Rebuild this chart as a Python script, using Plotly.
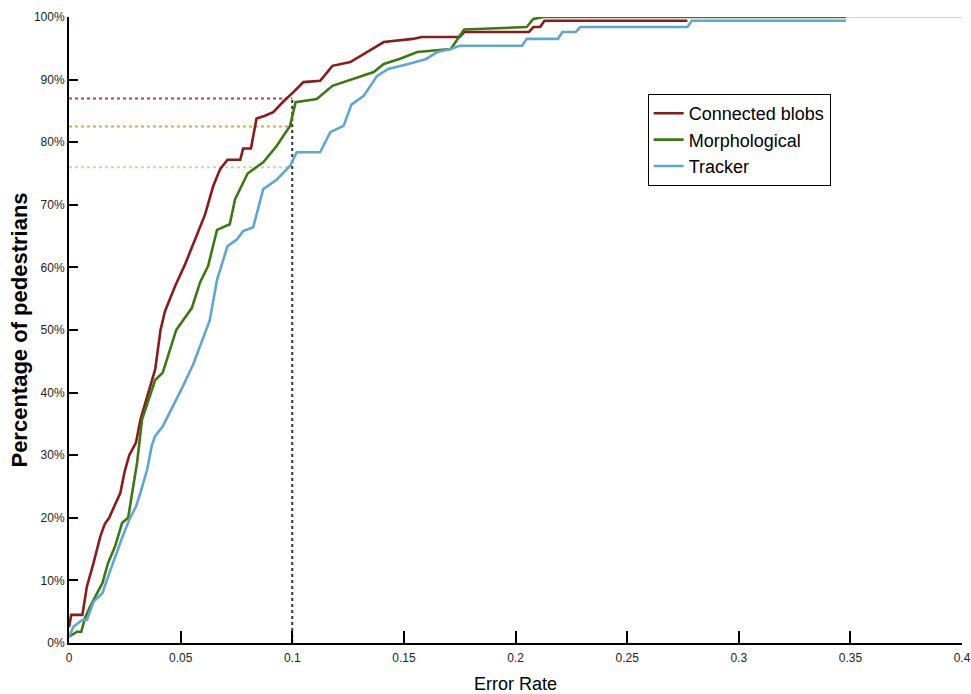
import plotly.graph_objects as go

# ---- data ----
blobs_x = [0, 0.001, 0.006, 0.008, 0.011, 0.014, 0.016, 0.018, 0.023, 0.025, 0.027, 0.030, 0.032,
           0.0386, 0.041, 0.043, 0.0475, 0.052, 0.0565, 0.061, 0.0646, 0.0677, 0.071, 0.0767, 0.078, 0.0815,
           0.084, 0.0875, 0.0915, 0.096, 0.1005, 0.105, 0.1125, 0.118, 0.126, 0.1336, 0.141, 0.154,
           0.158, 0.175, 0.177, 0.206, 0.208, 0.211, 0.213, 0.277]
blobs_y = [2.5, 4.5, 4.5, 9, 12.8, 17, 19, 20, 24, 27.5, 30, 32, 35.7,
           43.7, 50, 53, 57, 60.5, 64.5, 68.5, 73, 75.7, 77.2, 77.2, 79, 79,
           83.8, 84.2, 84.8, 86.5, 88, 89.6, 89.8, 92.2, 92.8, 94.4, 96, 96.5,
           96.8, 96.8, 97.6, 97.6, 98.4, 98.4, 99.4, 99.4]

morph_x = [0, 0.0036, 0.0055, 0.0072, 0.0094, 0.0125, 0.015, 0.0175, 0.0206, 0.0238, 0.0265, 0.0283,
           0.0305, 0.0327, 0.0386, 0.042, 0.048, 0.055, 0.0587, 0.0623, 0.0663, 0.072, 0.0744, 0.08,
           0.087, 0.093, 0.099, 0.1015, 0.111, 0.118, 0.126, 0.1365, 0.141, 0.148, 0.156, 0.171,
           0.177, 0.205, 0.208, 0.2125, 0.348]
morph_y = [1, 1.8, 1.8, 4, 5.8, 8, 9.6, 12.8, 15.4, 19.2, 20, 24,
           28.8, 35.7, 42, 43.2, 50, 53.5, 57.6, 60.2, 66, 66.9, 70.9, 75,
           76.8, 79.4, 82.6, 86.4, 86.9, 89, 90, 91.2, 92.5, 93.3, 94.4, 94.9,
           98, 98.4, 99.7, 100, 100]

track_x = [0, 0.002, 0.006, 0.008, 0.011, 0.015, 0.0175, 0.0206, 0.024, 0.027, 0.03, 0.032, 0.035,
           0.037, 0.0385, 0.042, 0.0466, 0.051, 0.0556, 0.06, 0.063, 0.0663, 0.071, 0.0753, 0.078,
           0.0825, 0.0857, 0.087, 0.093, 0.099, 0.102, 0.1125, 0.117, 0.123, 0.1265, 0.132, 0.138,
           0.143, 0.152, 0.16, 0.165, 0.171, 0.175, 0.203, 0.205, 0.219, 0.221, 0.227, 0.229, 0.277,
           0.279, 0.348]
track_y = [1, 2.6, 3.7, 3.7, 6.6, 8, 10.6, 13.8, 17, 19.7, 21.8, 24, 27.7,
           31.4, 33, 34.6, 37.8, 41, 44.5, 48.5, 51.5, 58, 63.4, 64.5, 65.8,
           66.4, 70.9, 72.5, 74, 76.2, 78.4, 78.4, 81.6, 82.6, 86, 87.4, 90.6,
           91.7, 92.5, 93.3, 94.4, 94.9, 95.4, 95.4, 96.5, 96.5, 97.6, 97.6, 98.4, 98.4,
           99.4, 99.4]

tail_x = [0.348, 0.4]
tail_y = [100, 100]

ref_rate = 0.1
ref_levels = [87, 82.5, 76]

x_ticks = [0, 0.05, 0.1, 0.15, 0.2, 0.25, 0.3, 0.35, 0.4]
x_labels = ["0", "0.05", "0.1", "0.15", "0.2", "0.25", "0.3", "0.35", "0.4"]
y_ticks = [0, 10, 20, 30, 40, 50, 60, 70, 80, 90, 100]
y_labels = [f"{v}%" for v in y_ticks]

series_names = ["Connected blobs", "Morphological", "Tracker"]
series_colors = ["#861c1c", "#3d7812", "#5ea7cf"]
ref_colors = ["#a24a4a", "#c9b04a", "#d6d2a4"]

FONT = "Liberation Sans, Arial, sans-serif"

fig = go.Figure()

# reference dotted lines
for lvl, c in zip(ref_levels, ref_colors):
    fig.add_trace(go.Scatter(x=[0, ref_rate], y=[lvl, lvl], mode="lines",
                             line=dict(color=c, width=2, dash="dot"),
                             showlegend=False, hoverinfo="skip"))
fig.add_trace(go.Scatter(x=[ref_rate, ref_rate], y=[0, ref_levels[0]], mode="lines",
                         line=dict(color="#333333", width=2, dash="dot"),
                         showlegend=False, hoverinfo="skip"))

fig.add_trace(go.Scatter(x=tail_x, y=tail_y, mode="lines",
                         line=dict(color="#a8a8a8", width=1),
                         showlegend=False, hoverinfo="skip"))

for xs, ys, name, col in zip([blobs_x, morph_x, track_x], [blobs_y, morph_y, track_y],
                             series_names, series_colors):
    fig.add_trace(go.Scatter(x=xs, y=ys, mode="lines", name=name,
                             line=dict(color=col, width=2.6)))

fig.update_layout(
    width=971, height=694,
    margin=dict(l=69, r=9, t=17, b=51),
    paper_bgcolor="white", plot_bgcolor="white",
    showlegend=True,
    legend=dict(x=0.648, y=0.877, xanchor="left", yanchor="top",
                bordercolor="black", borderwidth=1, bgcolor="white",
                font=dict(family=FONT, size=18, color="black"),
                traceorder="normal"),
    xaxis=dict(range=[0, 0.4], tickvals=x_ticks, ticktext=x_labels,
               ticks="inside", ticklen=12, tickwidth=1.5, tickcolor="black",
               showline=True, linecolor="black", linewidth=2,
               showgrid=False, zeroline=False, automargin=False,
               ticklabeloverflow="allow", ticklabelstandoff=3,
               tickfont=dict(family=FONT, size=12, color="#222222"),
               title=dict(text="Error Rate", standoff=14,
                          font=dict(family=FONT, size=18, color="black"))),
    yaxis=dict(range=[0, 100], tickvals=y_ticks, ticktext=y_labels,
               ticks="inside", ticklen=9, tickwidth=1.5, tickcolor="black",
               showline=True, linecolor="black", linewidth=2,
               showgrid=False, zeroline=False, automargin=False,
               tickfont=dict(family=FONT, size=12, color="#222222"),
               title=dict(text="<b>Percentage of pedestrians</b>", standoff=0,
                          font=dict(family=FONT, size=22, color="black"))),
)

# remove the default 8px page margin so the figure fills the window exactly
fig.write_html("out.html", config={"displayModeBar": False},
               post_script="document.body.style.margin='0px';")
